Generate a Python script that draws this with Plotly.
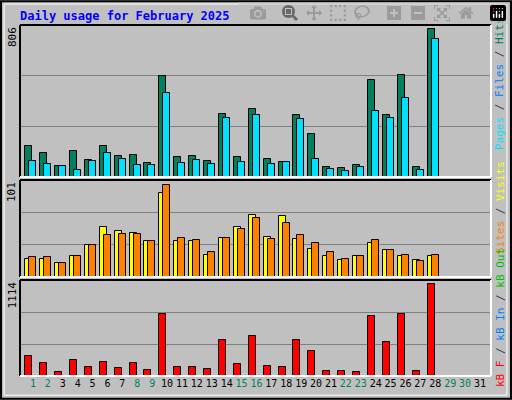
import plotly.graph_objects as go
from plotly.subplots import make_subplots

# ---- data ----
days = list(range(1, 29))
hits = [164, 127, 58, 138, 90, 164, 111, 117, 74, 536, 106, 111, 85, 334, 106,
        360, 95, 80, 329, 228, 53, 48, 64, 514, 329, 541, 53, 785]
files = [85, 69, 58, 37, 85, 127, 95, 64, 64, 445, 74, 90, 69, 313, 80,
         329, 69, 80, 307, 95, 42, 32, 53, 350, 313, 419, 37, 732]
visits = [19, 19, 15, 22, 33, 52, 48, 46, 37, 87, 38, 38, 23, 41, 52,
          65, 42, 64, 40, 29, 22, 18, 22, 35, 28, 22, 18, 22]
sites = [21, 21, 15, 22, 33, 44, 45, 45, 37, 96, 41, 39, 26, 41, 50,
         61, 40, 56, 44, 35, 26, 19, 22, 39, 28, 23, 17, 23]
kbytes = [237, 155, 50, 190, 109, 167, 97, 155, 74, 714, 109, 109, 85, 423, 144,
          469, 120, 109, 423, 295, 62, 62, 50, 691, 400, 714, 62, 1063]
max_hits, max_visits, max_kb = 806, 101, 1114
weekend = [1, 2, 8, 9, 15, 16, 22, 23, 29, 30]
all_days = list(range(1, 32))

BG = "#C0C0C0"
FONT = "DejaVu Sans Mono"

fig = make_subplots(rows=3, cols=1, shared_xaxes=True)

def bar(y, color, off, row):
    fig.add_trace(go.Bar(x=days, y=y, marker=dict(color=color, line=dict(color="black", width=1)),
                         offset=off, width=0.47, showlegend=False), row=row, col=1)

bar(hits, "#00805F", -0.52, 1)
bar(files, "#00E0FF", -0.25, 1)
bar(visits, "#FFFF00", -0.52, 2)
bar(sites, "#FF8000", -0.25, 2)
bar(kbytes, "#FF0000", -0.52, 3)

xd = [20 / 512, 491 / 512]
doms = [(25, 177), (180, 277), (280, 376)]
maxes = [max_hits, max_visits, max_kb]
for i, ((t, b), m) in enumerate(zip(doms, maxes), start=1):
    fig.update_yaxes(domain=[1 - b / 400, 1 - t / 400], range=[0, m], showticklabels=False,
                     tickvals=[m / 3, 2 * m / 3], gridcolor="#808080", zeroline=False,
                     row=i, col=1)
    fig.update_xaxes(domain=xd, range=[0.13, 31.74], showgrid=False, row=i, col=1)
    x0, x1 = xd
    y0, y1 = 1 - b / 400, 1 - t / 400
    fig.add_shape(type="line", xref="paper", yref="paper", x0=x0, x1=x1, y0=y1, y1=y1, line=dict(color="black", width=2))
    fig.add_shape(type="line", xref="paper", yref="paper", x0=x0, x1=x0, y0=y0, y1=y1, line=dict(color="black", width=2))
    fig.add_shape(type="line", xref="paper", yref="paper", x0=x0, x1=x1, y0=y0, y1=y0, line=dict(color="white", width=2))
    fig.add_shape(type="line", xref="paper", yref="paper", x0=x1, x1=x1, y0=y0, y1=y1, line=dict(color="white", width=2))
    fig.add_annotation(text=str(m), xref="paper", yref="paper", x=12 / 512, y=y1, xanchor="center",
                       yanchor="top", textangle=-90, showarrow=False, font=dict(family=FONT, size=11, color="black"))

ticktext = [f'<span style="color:{"#00805F" if d in weekend else "black"}">{d}</span>' for d in all_days]
fig.update_xaxes(tickvals=all_days, ticktext=ticktext, ticks="", tickangle=0,
                 tickfont=dict(family=FONT, size=10), row=3, col=1)

# right-side rotated legends
def side(text, ycenter):
    fig.add_annotation(text=text, xref="paper", yref="paper", x=500 / 512, y=1 - ycenter / 400,
                       xanchor="center", yanchor="middle",
                       textangle=-90, showarrow=False, font=dict(family=FONT, size=11))

side('<span style="color:#00E0FF">Pages</span> / <span style="color:#0080FF">Files</span> / '
     '<span style="color:#00805F">Hits</span>', 84)
side('<span style="color:#FF8000">Sites</span> / <span style="color:#FFFF00">Visits</span>', 208)
side('<span style="color:#FF0000">kB F</span> / <span style="color:#0080FF">kB In</span> / '
     '<span style="color:#00C000">kB Out</span>', 318)

fig.add_annotation(text="<b>Daily usage for February 2025</b>", xref="paper", yref="paper",
                   x=18 / 512, y=1 - 16 / 400, xanchor="left", yanchor="middle", showarrow=False,
                   font=dict(family=FONT, size=12, color="#0000FF"))

# outer frame
fig.add_shape(type="rect", xref="paper", yref="paper", x0=0.002, x1=0.998, y0=0.003, y1=0.997,
              line=dict(color="black", width=2))
fig.add_shape(type="rect", xref="paper", yref="paper", x0=0.008, x1=0.99, y0=0.012, y1=0.99,
              line=dict(color="white", width=1))

fig.update_layout(width=512, height=400, margin=dict(l=0, r=0, t=0, b=0),
                  paper_bgcolor=BG, plot_bgcolor=BG, barmode="overlay", bargap=0)

fig.write_html("out.html", post_script="document.body.style.margin='0';")
